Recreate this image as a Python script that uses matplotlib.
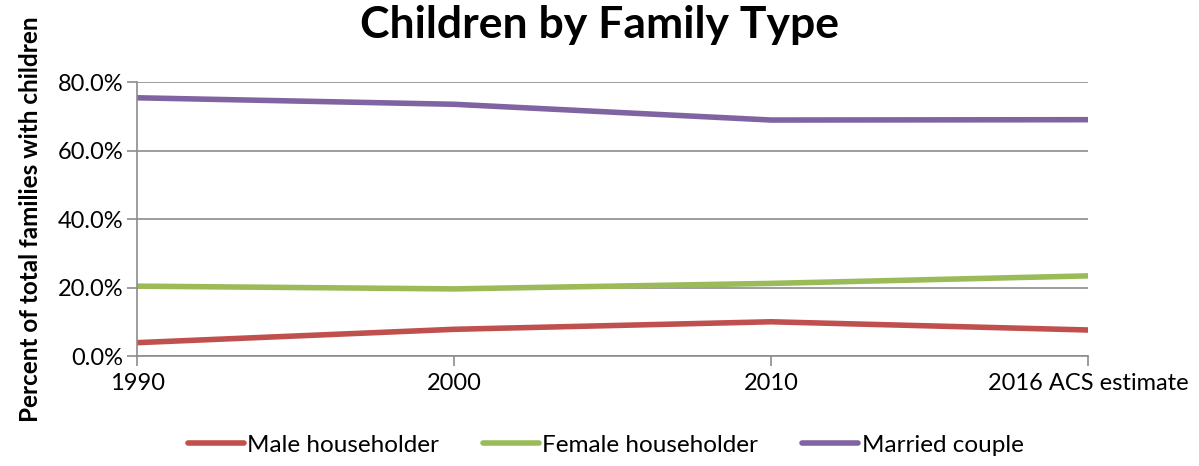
import matplotlib
matplotlib.use("Agg")
from matplotlib import pyplot as plt
from matplotlib.ticker import PercentFormatter

plt.rcParams["font.family"] = ["Lato", "DejaVu Sans"]

years = ["1990", "2000", "2010", "2016 ACS estimate"]
male = [3.9, 7.8, 10.0, 7.6]
female = [20.4, 19.6, 21.2, 23.4]
married = [75.4, 73.5, 68.9, 69.0]

series = [
    ("Male householder", male, "#C0504D"),
    ("Female householder", female, "#9BBB59"),
    ("Married couple", married, "#8064A2"),
]

fig = plt.figure(figsize=(11.99, 4.66), dpi=100)
ax = fig.add_axes([0.1143, 0.236, 0.7931, 0.588])

x = range(len(years))
for name, vals, col in series:
    ax.plot(x, vals, color=col, lw=4, solid_capstyle="round", label=name)

grid_col = "#8C8C8C"
ax.set_xlim(0, len(years) - 1)
ax.set_ylim(0, 80)
ax.set_yticks([0, 20, 40, 60, 80])
ax.yaxis.set_major_formatter(PercentFormatter(decimals=1))
ax.set_xticks(list(x))
ax.set_xticklabels(years)
ax.grid(axis="y", color=grid_col, lw=1.2)
ax.set_axisbelow(True)
for s in ["top", "right"]:
    ax.spines[s].set_visible(False)
for s in ["left", "bottom"]:
    ax.spines[s].set_color(grid_col)
    ax.spines[s].set_linewidth(1.2)
ax.tick_params(axis="y", length=7, color=grid_col, width=1.2, labelsize=17, pad=3)
ax.tick_params(axis="x", length=7, color=grid_col, width=1.2, labelsize=17, pad=5)

ax.set_ylabel("Percent of total families with children", fontsize=17.5,
              fontweight="bold")
ax.yaxis.set_label_coords(-0.1, 0.5)
fig.suptitle("Children by Family Type", fontsize=32, fontweight="bold", y=0.99)

fig.legend(loc="lower center", bbox_to_anchor=(0.505, -0.025), ncol=3, frameon=False,
           fontsize=17.5, handlelength=2.3, handletextpad=0.15, columnspacing=1.8)

fig.savefig("out.png", dpi=100)
